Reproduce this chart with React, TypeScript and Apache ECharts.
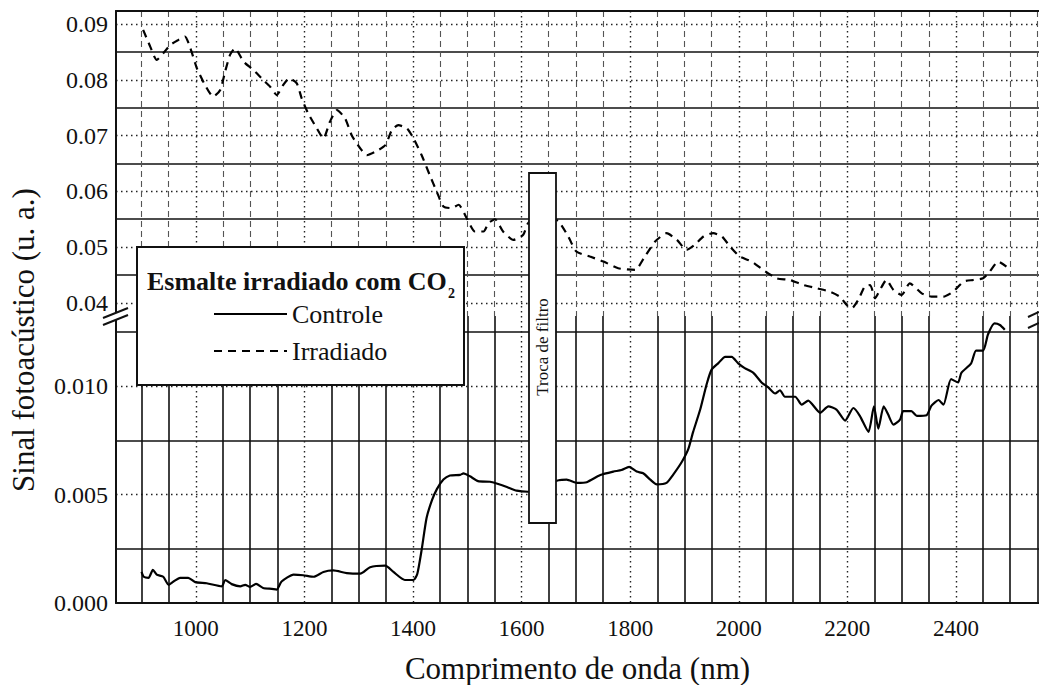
import React, { useEffect, useRef } from "react";
import * as echarts from "echarts";

// ---------- data ----------
const xMajorTicks = [1000, 1200, 1400, 1600, 1800, 2000, 2200, 2400];
const xMinorLines = [900, 950, 1050, 1100, 1150, 1250, 1300, 1350, 1450, 1500, 1550, 1650, 1700, 1750, 1850, 1900, 1950, 2050, 2100, 2150, 2250, 2300, 2350, 2450, 2500, 2550];
const upperMajorTicks = [0.04, 0.05, 0.06, 0.07, 0.08, 0.09];
const upperMinorLines = [0.045, 0.055, 0.065, 0.075, 0.085];
const lowerLabelTicks = [0, 0.005, 0.01];
const lowerMajorLines = [0.005, 0.01];
const lowerMinorLines = [0.0025, 0.0075, 0.0125];

const seriesNames = ["Controle", "Irradiado"];

const irradiadoNm = [903, 916, 928, 940, 953, 968, 980, 990, 1002, 1017, 1032, 1045, 1054, 1063, 1072, 1088, 1106, 1124, 1137, 1149, 1161, 1172, 1186, 1195, 1207, 1223, 1235, 1247, 1260, 1275, 1287, 1303, 1315, 1330, 1349, 1361, 1373, 1389, 1401, 1416, 1431, 1444, 1456, 1471, 1484, 1499, 1514, 1530, 1539, 1551, 1566, 1585, 1603, 1612, 1640, 1668, 1686, 1701, 1726, 1751, 1778, 1809, 1827, 1846, 1867, 1886, 1904, 1919, 1935, 1953, 1969, 1984, 2002, 2024, 2045, 2070, 2094, 2119, 2144, 2168, 2186, 2199, 2208, 2220, 2232, 2242, 2251, 2260, 2272, 2285, 2300, 2315, 2337, 2355, 2377, 2395, 2414, 2432, 2450, 2462, 2478, 2493];
const irradiadoVal = [0.0890, 0.0860, 0.0836, 0.0848, 0.0863, 0.0872, 0.0878, 0.0857, 0.0821, 0.0791, 0.0770, 0.0782, 0.0815, 0.0845, 0.0857, 0.0833, 0.0818, 0.0800, 0.0788, 0.0773, 0.0791, 0.0803, 0.0794, 0.0767, 0.0740, 0.0713, 0.0695, 0.0725, 0.0746, 0.0731, 0.0701, 0.0677, 0.0665, 0.0671, 0.0683, 0.0710, 0.0719, 0.0713, 0.0695, 0.0665, 0.0629, 0.0599, 0.0573, 0.0570, 0.0576, 0.0552, 0.0528, 0.0528, 0.0543, 0.0550, 0.0528, 0.0513, 0.0522, 0.0543, 0.0560, 0.0546, 0.0519, 0.0492, 0.0483, 0.0474, 0.0462, 0.0459, 0.0483, 0.0510, 0.0525, 0.0513, 0.0495, 0.0504, 0.0519, 0.0525, 0.0519, 0.0501, 0.0483, 0.0474, 0.0459, 0.0444, 0.0441, 0.0432, 0.0426, 0.0420, 0.0411, 0.0396, 0.0390, 0.0405, 0.0429, 0.0432, 0.0408, 0.0423, 0.0441, 0.0423, 0.0414, 0.0435, 0.0417, 0.0411, 0.0411, 0.0420, 0.0438, 0.0441, 0.0444, 0.0456, 0.0474, 0.0465];

const controleNm = [900, 904, 913, 921, 928, 940, 950, 959, 971, 986, 999, 1020, 1048, 1054, 1066, 1082, 1091, 1100, 1111, 1124, 1140, 1149, 1158, 1180, 1198, 1217, 1235, 1253, 1278, 1303, 1321, 1349, 1364, 1385, 1401, 1408, 1416, 1425, 1435, 1444, 1456, 1468, 1487, 1493, 1505, 1520, 1542, 1554, 1573, 1591, 1612, 1640, 1668, 1683, 1702, 1720, 1745, 1769, 1784, 1798, 1812, 1824, 1837, 1849, 1867, 1879, 1895, 1907, 1916, 1929, 1941, 1950, 1962, 1975, 1987, 1999, 2011, 2027, 2042, 2054, 2067, 2076, 2085, 2104, 2116, 2128, 2150, 2165, 2180, 2196, 2211, 2223, 2239, 2249, 2257, 2267, 2275, 2285, 2297, 2303, 2318, 2328, 2346, 2355, 2368, 2377, 2391, 2404, 2410, 2428, 2437, 2450, 2459, 2471, 2481, 2490];
const controleVal = [0.00143, 0.00121, 0.00116, 0.00153, 0.00131, 0.00121, 0.00084, 0.00099, 0.00116, 0.00116, 0.00096, 0.00091, 0.00077, 0.00106, 0.00087, 0.00077, 0.00084, 0.00074, 0.00088, 0.00069, 0.00065, 0.00062, 0.00099, 0.00131, 0.00128, 0.00121, 0.00143, 0.00150, 0.00138, 0.00135, 0.00165, 0.00172, 0.00143, 0.00106, 0.00106, 0.00135, 0.00246, 0.00392, 0.00474, 0.00525, 0.00569, 0.00588, 0.00591, 0.00598, 0.00584, 0.00562, 0.00559, 0.00551, 0.00535, 0.00518, 0.00513, 0.00540, 0.00566, 0.00569, 0.00554, 0.00557, 0.00590, 0.00606, 0.00613, 0.00628, 0.00606, 0.00598, 0.00569, 0.00547, 0.00554, 0.00591, 0.00650, 0.00709, 0.00789, 0.00892, 0.01010, 0.01076, 0.01105, 0.01135, 0.01135, 0.01105, 0.01083, 0.01061, 0.01017, 0.00995, 0.00966, 0.00981, 0.00951, 0.00951, 0.00914, 0.00933, 0.00877, 0.00907, 0.00892, 0.00841, 0.00899, 0.00863, 0.00789, 0.00907, 0.00804, 0.00907, 0.00870, 0.00822, 0.00845, 0.00885, 0.00885, 0.00863, 0.00866, 0.00910, 0.00936, 0.00914, 0.01032, 0.01017, 0.01061, 0.01105, 0.01164, 0.01164, 0.01238, 0.01289, 0.01282, 0.01260];

// ---------- styling ----------
const FONT = "'Liberation Serif', 'Times New Roman', serif";
const INK = "#111";
const dottedLine = { color: "#222", width: 1.4, type: [1.5, 3.5] };
const solidLine = { color: INK, width: 1.6, type: "solid" };
const dashedLine = { color: "#555", width: 1.1, type: [6, 4] };

const zip = (xs: number[], ys: number[]) => xs.map((x, i) => [x, ys[i]]);

export default function App() {
  const ref = useRef<HTMLDivElement>(null);

  useEffect(() => {
    if (!ref.current) return;
    const chart = echarts.init(ref.current, undefined, { renderer: "svg" });

    const xBase = {
      type: "value",
      min: 853,
      max: 2553,
      axisLine: { show: false, onZero: false },
      axisLabel: { show: false },
    };
    const yBase = {
      type: "value",
      axisLine: { show: false, onZero: false },
      axisLabel: { show: false },
    };
    const labelStyle = { fontFamily: FONT, fontSize: 24, color: INK };

    const option: any = {
      animation: false,
      backgroundColor: "#fff",
      grid: [
        { left: 116, width: 923, top: 11, height: 305 },
        { left: 116, width: 923, top: 316, height: 300 },
      ],
      xAxis: [
        {
          ...xBase,
          gridIndex: 0,
          position: "top",
          axisLine: { show: true, onZero: false, lineStyle: { color: INK, width: 2 } },
          axisTick: { show: false, customValues: xMinorLines },
          splitLine: { show: true, lineStyle: dashedLine },
        },
        {
          ...xBase,
          gridIndex: 0,
          position: "bottom",
          axisTick: { show: false, customValues: xMajorTicks },
          splitLine: { show: true, lineStyle: dottedLine },
        },
        {
          ...xBase,
          gridIndex: 1,
          position: "bottom",
          axisLine: { show: true, onZero: false, lineStyle: { color: INK, width: 2 } },
          axisTick: { show: false, customValues: xMajorTicks },
          axisLabel: { show: true, customValues: xMajorTicks, margin: 14, ...labelStyle, fontSize: 23, formatter: (v: number) => String(v) },
          splitLine: { show: true, lineStyle: dottedLine },
          name: "Comprimento de onda (nm)",
          nameLocation: "middle",
          nameGap: 50,
          nameTextStyle: { fontFamily: FONT, fontSize: 31, color: INK },
        },
        {
          ...xBase,
          gridIndex: 1,
          position: "top",
          axisTick: { show: false, customValues: xMinorLines },
          splitLine: { show: true, lineStyle: solidLine },
        },
      ],
      yAxis: [
        {
          ...yBase,
          gridIndex: 0,
          position: "left",
          min: 0.03763,
          max: 0.092388,
          axisLine: { show: true, onZero: false, lineStyle: { color: INK, width: 2 } },
          axisTick: { show: false, customValues: upperMajorTicks },
          axisLabel: { show: true, customValues: upperMajorTicks, margin: 8, ...labelStyle, formatter: (v: number) => v.toFixed(2) },
          splitLine: { show: true, lineStyle: dottedLine },
        },
        {
          ...yBase,
          gridIndex: 0,
          position: "right",
          min: 0.03763,
          max: 0.092388,
          axisTick: { show: false, customValues: upperMinorLines },
          splitLine: { show: true, lineStyle: solidLine },
        },
        {
          ...yBase,
          gridIndex: 1,
          position: "left",
          min: 0,
          max: 0.013233,
          axisLine: { show: true, onZero: false, lineStyle: { color: INK, width: 2 } },
          axisTick: { show: false, customValues: lowerMajorLines },
          axisLabel: { show: true, customValues: lowerLabelTicks, margin: 8, ...labelStyle, formatter: (v: number) => v.toFixed(3) },
          splitLine: { show: true, lineStyle: dottedLine },
        },
        {
          ...yBase,
          gridIndex: 1,
          position: "right",
          min: 0,
          max: 0.013233,
          axisTick: { show: false, customValues: lowerMinorLines },
          splitLine: { show: true, lineStyle: solidLine },
        },
      ],
      legend: {
        orient: "vertical",
        left: 213,
        top: 301,
        padding: 0,
        itemWidth: 73,
        itemHeight: 14,
        itemGap: 11,
        z: 10,
        selectedMode: false,
        data: seriesNames,
        itemStyle: { opacity: 0, borderWidth: 0 },
        textStyle: { fontFamily: FONT, fontSize: 26, color: INK },
      },
      series: [
        {
          name: seriesNames[0],
          type: "line",
          xAxisIndex: 2,
          yAxisIndex: 2,
          data: zip(controleNm, controleVal),
          symbol: "none",
          showSymbol: false,
          smooth: 0.2,
          z: 3,
          lineStyle: { color: "#000", width: 2.2 },
          itemStyle: { color: "#000" },
        },
        {
          name: seriesNames[1],
          type: "line",
          xAxisIndex: 0,
          yAxisIndex: 0,
          data: zip(irradiadoNm, irradiadoVal),
          symbol: "none",
          showSymbol: false,
          smooth: 0.2,
          z: 3,
          lineStyle: { color: "#000", width: 2.2, type: [8, 6] },
          itemStyle: { color: "#000" },
        },
      ],
      graphic: [
        // legend box
        {
          type: "rect",
          z: 5,
          shape: { x: 137, y: 247, width: 327, height: 138 },
          style: { fill: "#fff", stroke: INK, lineWidth: 2 },
        },
        {
          type: "text",
          z: 12,
          x: 147,
          y: 281,
          style: {
            text: "Esmalte irradiado com CO",
            fontFamily: FONT,
            fontSize: 26,
            fontWeight: "bold",
            fill: INK,
            align: "left",
            verticalAlign: "middle",
          },
        },
        {
          type: "text",
          z: 12,
          x: 448,
          y: 293,
          style: {
            text: "2",
            fontFamily: FONT,
            fontSize: 14,
            fontWeight: "bold",
            fill: INK,
            align: "left",
            verticalAlign: "middle",
          },
        },
        // filter change box
        {
          type: "rect",
          z: 6,
          shape: { x: 529, y: 173, width: 27, height: 350 },
          style: { fill: "#fff", stroke: INK, lineWidth: 1.8 },
        },
        {
          type: "text",
          z: 12,
          x: 542.5,
          y: 347,
          rotation: Math.PI / 2,
          style: {
            text: "Troca de filtro",
            fontFamily: FONT,
            fontSize: 17,
            fill: INK,
            align: "center",
            verticalAlign: "middle",
          },
        },
        // y-axis title
        {
          type: "text",
          z: 12,
          x: 23,
          y: 340,
          rotation: Math.PI / 2,
          style: {
            text: "Sinal fotoacústico (u. a.)",
            fontFamily: FONT,
            fontSize: 31,
            fill: INK,
            align: "center",
            verticalAlign: "middle",
          },
        },
        // axis break marks
        {
          type: "polygon",
          z: 11,
          shape: { points: [[106, 317], [126, 309], [126, 316], [106, 324]] },
          style: { fill: "#fff" },
        },
        { type: "line", z: 12, shape: { x1: 103, y1: 318, x2: 128, y2: 308 }, style: { stroke: INK, lineWidth: 2 } },
        { type: "line", z: 12, shape: { x1: 103, y1: 325, x2: 128, y2: 315 }, style: { stroke: INK, lineWidth: 2 } },
        { type: "line", z: 12, shape: { x1: 1028, y1: 317, x2: 1039, y2: 312 }, style: { stroke: INK, lineWidth: 2 } },
        { type: "line", z: 12, shape: { x1: 1028, y1: 328, x2: 1039, y2: 323 }, style: { stroke: INK, lineWidth: 2 } },
      ],
    };

    chart.setOption(option);
    return () => chart.dispose();
  }, []);

  return (
    <div
      ref={ref}
      style={{ position: "absolute", left: 0, top: 0, width: 1039, height: 685, background: "#fff" }}
    />
  );
}
